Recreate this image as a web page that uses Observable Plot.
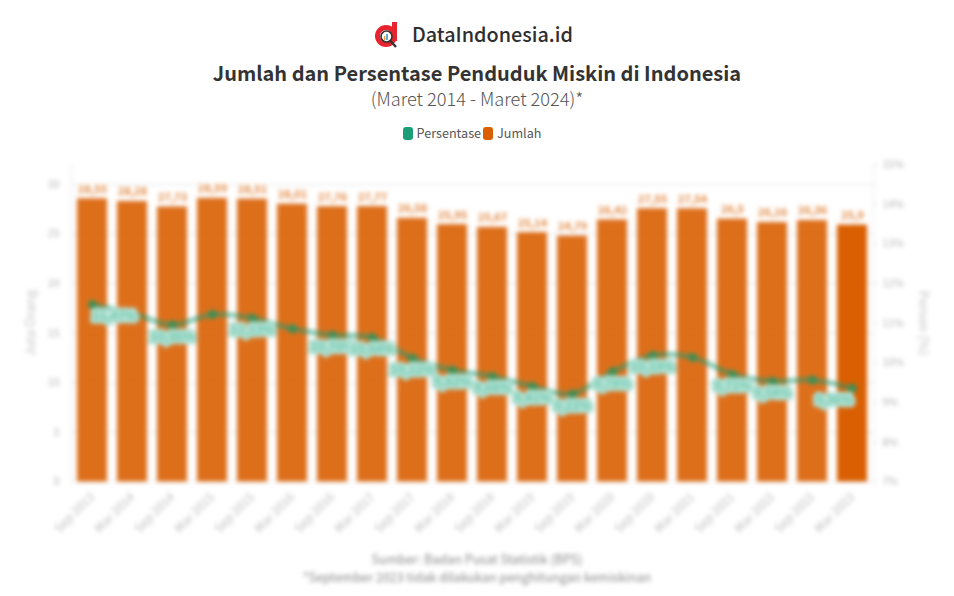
<!DOCTYPE html>
<html><head><meta charset="utf-8">
<script src="https://cdn.jsdelivr.net/npm/d3@7"></script>
<script src="https://cdn.jsdelivr.net/npm/@observablehq/plot@0.6"></script>
<style>
html,body{margin:0;padding:0;background:#fff;width:954px;height:596px;overflow:hidden}
body{position:relative;font-family:"Noto Sans CJK SC","Noto Sans",sans-serif;color:#333}
.abs{position:absolute;left:0;width:954px;text-align:center;white-space:nowrap}
#brand{top:19px;left:412px;width:auto;font-size:19.8px;font-weight:500;line-height:30px;color:#2e2e2e;text-align:left}
#logo{position:absolute;left:375px;top:21px}
#title{top:62px;font-size:20px;font-weight:700;line-height:22px;color:#333}
#sub{top:87px;font-size:18.2px;font-weight:300;line-height:22px;color:#555}
#legend{top:124px;width:946px;font-size:12.6px;line-height:18px;color:#555}
#legend i{display:inline-block;width:10px;height:13px;border-radius:3px;vertical-align:-2px;margin-right:4px}
#legend span{margin-right:2px}
#chart{position:absolute;left:0;top:150px;filter:blur(2.2px)}
#foot{top:550px;font-size:12.5px;line-height:18px;color:#888;filter:blur(2px)}
</style></head>
<body>
<svg id="logo" width="24" height="28" viewBox="0 0 24 28">
  <circle cx="11" cy="15" r="8.5" fill="none" stroke="#e8232e" stroke-width="5"/>
  <rect x="17" y="1" width="5" height="19" fill="#e8232e"/>
  <circle cx="11.5" cy="15.5" r="5.5" fill="#fff" stroke="#333" stroke-width="1.6"/>
  <rect x="8.8" y="15" width="1.6" height="4" fill="#e8a33a"/><rect x="11.2" y="13" width="1.6" height="6" fill="#3a9ad9"/>
  <line x1="15.5" y1="20" x2="21" y2="26" stroke="#333" stroke-width="2.4"/>
</svg>
<div class="abs" id="brand">DataIndonesia.id</div>
<div class="abs" id="title">Jumlah dan Persentase Penduduk Miskin di Indonesia</div>
<div class="abs" id="sub">(Maret 2014 - Maret 2024)*</div>
<div class="abs" id="legend"><i style="background:#1b9e77"></i><span>Persentase</span><i style="background:#d95f02"></i><span>Jumlah</span></div>
<div id="chart"></div>
<div class="abs" id="foot">Sumber: Badan Pusat Statistik (BPS)<br>*September 2023 tidak dilakukan penghitungan kemiskinan</div>
<script>
const periods = ["Sep 2013","Mar 2014","Sep 2014","Mar 2015","Sep 2015","Mar 2016","Sep 2016","Mar 2017","Sep 2017","Mar 2018","Sep 2018","Mar 2019","Sep 2019","Mar 2020","Sep 2020","Mar 2021","Sep 2021","Mar 2022","Sep 2022","Mar 2023"];
const jumlah = [28.55,28.28,27.73,28.59,28.51,28.01,27.76,27.77,26.58,25.95,25.67,25.14,24.79,26.42,27.55,27.54,26.5,26.16,26.36,25.9];
const persen = [11.47,11.25,10.96,11.22,11.13,10.86,10.70,10.64,10.12,9.82,9.66,9.41,9.22,9.78,10.19,10.14,9.71,9.54,9.57,9.36];
const labelledPeriods = ["Sep 2014","Sep 2015","Sep 2016","Mar 2017","Sep 2017","Mar 2018","Sep 2018","Mar 2019","Sep 2019","Mar 2020","Sep 2020","Sep 2021","Mar 2022"];
const leftTicks = [0,5,10,15,20,25,30];
const rightTicks = [7,8,9,10,11,12,13,14,15];

const toY = d3.scaleLinear([7,15],[0,32]);
const comma = (v) => String(v).replace(".",",");
const rows = periods.map((p,i)=>({p,j:jumlah[i],k:persen[i],y:toY(persen[i]),last:i===periods.length-1}));
const mid = rows.filter(d=>labelledPeriods.includes(d.p));
const pctLabel = (d)=>comma(d.k.toFixed(2))+"%";
const halo = {fill:"#74c8af",stroke:"#b2e2d5",strokeWidth:7,strokeLinejoin:"round",fontSize:12,fontWeight:700,dy:12};

const plot = Plot.plot({
  width:954,height:400,marginTop:14,marginBottom:68.5,marginLeft:71,marginRight:81,
  style:{background:"transparent",fontFamily:'"Noto Sans CJK SC","Noto Sans",sans-serif'},
  x:{domain:periods,paddingInner:0.25,paddingOuter:0.125,label:null},
  y:{domain:[0,32],label:null},
  marks:[
    Plot.ruleY(leftTicks,{stroke:"#e4e4e4"}),
    Plot.frame({anchor:"left",stroke:"#e8e8e8"}),
    Plot.frame({anchor:"right",stroke:"#e8e8e8"}),
    Plot.barY(rows,{x:"p",y:"j",fill:"#d95f02",fillOpacity:d=>d.last?1:0.9}),
    Plot.text(rows,{x:"p",y:"j",text:d=>comma(d.j),dy:-9.5,fill:"#e2873f",stroke:"#fff",strokeWidth:3,fontSize:11,fontWeight:700}),
    Plot.line(rows,{x:"p",y:"y",curve:"catmull-rom",stroke:"#1b9e77",strokeOpacity:0.55,strokeWidth:5}),
    Plot.dot(rows,{x:"p",y:"y",r:4.5,fill:"#3f8f55"}),
    Plot.text(rows.slice(0,1),{...halo,x:"p",y:"y",text:pctLabel,textAnchor:"start"}),
    Plot.text(mid,{...halo,x:"p",y:"y",text:pctLabel}),
    Plot.text(rows.slice(-1),{...halo,x:"p",y:"y",text:pctLabel,textAnchor:"end"}),
    Plot.axisY(leftTicks,{anchor:"left",tickSize:0,tickPadding:12,fontSize:10.5,color:"#b3b3b3",label:null}),
    Plot.axisY(rightTicks.map(toY),{anchor:"right",tickSize:4,stroke:"#e0e0e0",fill:"#b3b3b3",tickPadding:5,fontSize:10.5,tickFormat:d=>Math.round(toY.invert(d))+"%",label:null}),
    Plot.axisX({tickRotate:-45,tickSize:0,tickPadding:13,fontSize:12,color:"#bdbdbd",label:null}),
    Plot.text(["Juta Orang"],{frameAnchor:"left",textAnchor:"middle",rotate:-90,dx:-41,fontSize:13,fill:"#c4c4c4"}),
    Plot.text(["Persen (%)"],{frameAnchor:"right",textAnchor:"middle",rotate:90,dx:50,fontSize:13,fill:"#c4c4c4"})
  ]
});
document.getElementById("chart").appendChild(plot);
</script>
</body></html>
